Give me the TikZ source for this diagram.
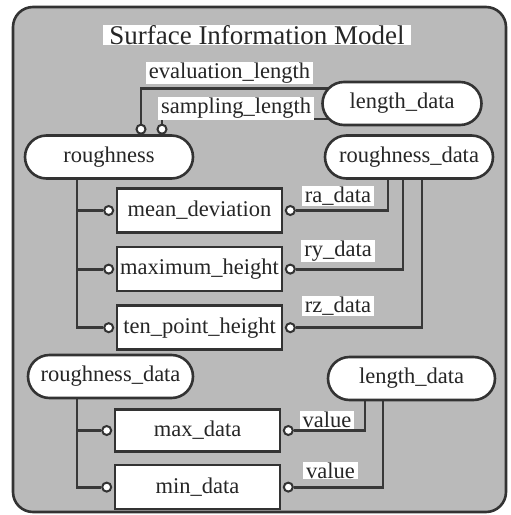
\documentclass[tikz,border=0pt]{standalone}
\usepackage{fontspec}
\setmainfont{Liberation Serif}
\usetikzlibrary{positioning, shapes.misc}

\pgfdeclarelayer{back}
\pgfdeclarelayer{wires}
\pgfsetlayers{back,wires,main}

\tikzset{
  txt/.style={font=\fontsize{22.5}{26}\selectfont, text=black!85},
  entity/.style={txt, rounded rectangle, draw=black!80, line width=2.6pt, fill=white,
                 minimum width=168pt, minimum height=43pt, inner sep=0pt},
  attrbox/.style={txt, rectangle, draw=black!80, line width=2.6pt, fill=white,
                  minimum width=165pt, minimum height=44pt, inner sep=0pt},
  port/.style={circle, draw=black!80, line width=2pt, fill=white, minimum size=9pt, inner sep=0pt},
  role/.style={txt, fill=white, inner xsep=3pt, inner ysep=1pt},
  wire/.style={draw=black!78, line width=2.8pt},
}

\begin{document}
\begin{tikzpicture}[x=1pt, y=-1pt]
  \useasboundingbox (0,0) rectangle (511,515);

  \node[role, font=\fontsize{27}{30}\selectfont, inner xsep=6pt, inner ysep=0pt] (title) at (257,35) {Surface Information Model};

  \node[entity] (rough) at (109,157) {roughness};
  \node[entity] (rdat1) at (409,157) {roughness\_data};
  \node[entity, minimum width=159pt] (ldat1) at (402,103.5) {length\_data};

  \node[attrbox] (md) at (199.5,210.5) {mean\_deviation};
  \node[attrbox, below=12pt of md] (mh) {maximum\_height};
  \node[attrbox, below=12pt of mh] (tp) {ten\_point\_height};

  \node[entity, minimum width=165pt] (rdat2) at (110.5,376.5) {roughness\_data};
  \node[entity, minimum width=167pt] (ldat2) at (411.5,378.5) {length\_data};

  \node[attrbox, minimum height=42pt] (maxd) at (197.5,430.5) {max\_data};
  \node[attrbox, minimum height=44pt, below=11pt of maxd] (mind) {min\_data};

  \node[port, above=0pt of rough.north, xshift=32pt, yshift=-0.5pt] (pev) {};
  \node[port, above=0pt of rough.north, xshift=53pt, yshift=-0.5pt] (psa) {};
  \node[port, left=1.5pt of md.west] (pmdl) {};
  \node[port, left=1.5pt of mh.west] (pmhl) {};
  \node[port, left=1.5pt of tp.west] (ptpl) {};
  \node[port, right=1.5pt of md.east] (pmdr) {};
  \node[port, right=1.5pt of mh.east] (pmhr) {};
  \node[port, right=1.5pt of tp.east] (ptpr) {};
  \node[port, left=1.5pt of maxd.west] (pmaxl) {};
  \node[port, left=1.5pt of mind.west] (pminl) {};
  \node[port, right=1.5pt of maxd.east] (pmaxr) {};
  \node[port, right=1.5pt of mind.east] (pminr) {};

  \node[role] (lev) at (229.5,73) {evaluation\_length};
  \node[role] (lsa) at (236,108.5) {sampling\_length};
  \node[role] (lra) at (338,196) {ra\_data};
  \node[role] (lry) at (338,251) {ry\_data};
  \node[role] (lrz) at (338,306) {rz\_data};
  \node[role] (lv1) at (327,420) {value};
  \node[role] (lv2) at (330.5,470.5) {value};

  \begin{pgfonlayer}{back}
    \draw[black!80, line width=2.6pt, fill=black!27, rounded corners=20pt] (13,7) rectangle (506,512);
  \end{pgfonlayer}

  \begin{pgfonlayer}{wires}
    \draw[wire]
      (pev) |- ([yshift=15pt]ldat1.center)
      (psa) |- ([yshift=-15.5pt]ldat1.center)
      ([xshift=-32pt]rough.south) |- (ptpl)
      (pmdl) -| ([xshift=-32pt]rough.south)
      (pmhl) -| ([xshift=-32pt]rough.south)
      (pmdr) -| ([xshift=-21pt]rdat1.south)
      (pmhr) -| ([xshift=-6pt]rdat1.south)
      (ptpr) -| ([xshift=13pt]rdat1.south)
      ([xshift=-33.5pt]rdat2.south) |- (pminl)
      (pmaxl) -| ([xshift=-33.5pt]rdat2.south)
      (pmaxr) -| ([xshift=-46.5pt]ldat2.south)
      (pminr) -| ([xshift=-28.5pt]ldat2.south);
  \end{pgfonlayer}
\end{tikzpicture}
\end{document}
